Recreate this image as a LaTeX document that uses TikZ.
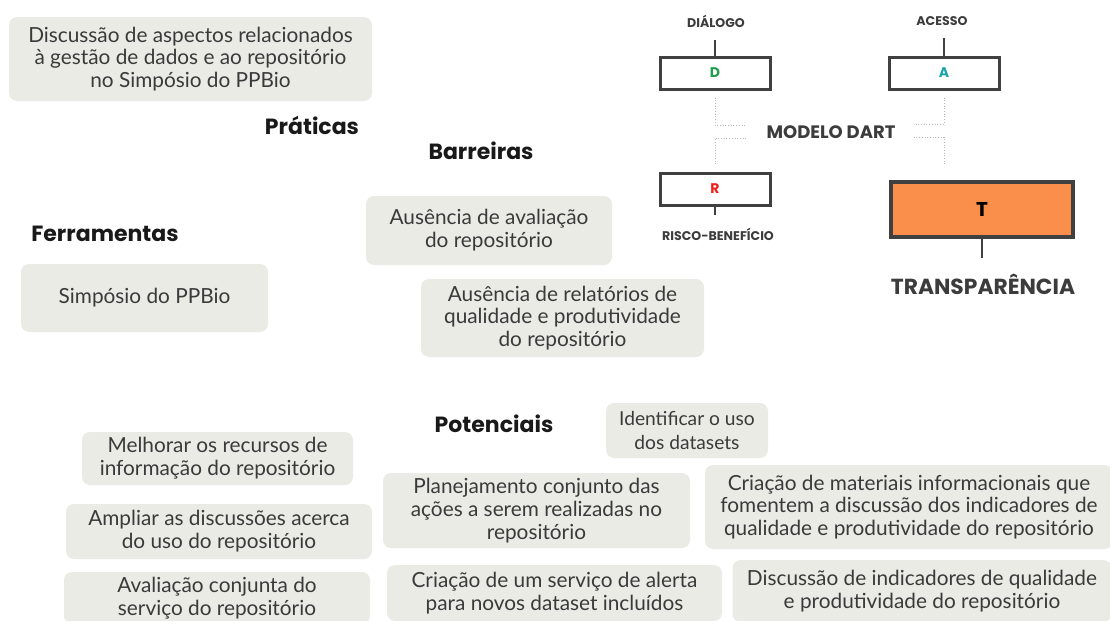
\documentclass[tikz,border=0pt]{standalone}
\usepackage{fontspec}
\setmainfont{Lato}
\newfontfamily\headfont{Poppins}
\usetikzlibrary{positioning}

\definecolor{boxgray}{HTML}{EBEBE6}
\definecolor{textgray}{HTML}{3A3A3A}
\definecolor{edgegray}{HTML}{404040}
\definecolor{labelgray}{HTML}{3C3C3C}
\definecolor{dgreen}{HTML}{1E9E4A}
\definecolor{ateal}{HTML}{1BA3A8}
\definecolor{rred}{HTML}{F21D1D}
\definecolor{torange}{HTML}{FA8F4B}

\begin{document}
\begin{tikzpicture}[
    x=0.5pt, y=-0.5pt,
    box/.style={rectangle, fill=boxgray, rounded corners=4pt, align=center, text=textgray, inner sep=0pt, font=\fontsize{10.4}{11.4}\selectfont},
    head/.style={inner sep=0pt, text=black!90, font=\headfont\bfseries\fontsize{11}{12}\selectfont},
    letterbox/.style={rectangle, draw=edgegray, line width=1.5pt, fill=white, minimum width=55pt, minimum height=16pt, font=\headfont\bfseries\fontsize{7}{8}\selectfont},
    tag/.style={inner sep=0pt, text=labelgray, font=\headfont\bfseries\fontsize{6.3}{7}\selectfont},
    stem/.style={draw=edgegray, line width=1.3pt},
    dotline/.style={draw=gray!55, line width=0.45pt, dash pattern=on 0.45pt off 0.9pt}
]
\useasboundingbox (0,0) rectangle (1110,621);
\clip (0,0) rectangle (1110,621);

% Praticas, ferramentas, barreiras
\node[box, minimum width=181.5pt, minimum height=42pt] (pratbox) at (190.5,59) {Discussão de aspectos relacionados\\à gestão de dados e ao repositório\\no Simpósio do PPBio};
\node[head] (praticas) at (312,125) {Práticas};
\node[head] (barreiras) at (481,151) {Barreiras};
\node[head] (ferramentas) at (105,234) {Ferramentas};
\node[box, minimum width=123.5pt, minimum height=34pt] (ferrbox) at (144.5,298) {Simpósio do PPBio};
\node[box, minimum width=123pt, minimum height=34.5pt] (barbox1) at (489,230.5) {Ausência de avaliação\\do repositório};
\node[box, minimum width=141.5pt, minimum height=39pt] (barbox2) at (562.5,318) {Ausência de relatórios de\\qualidade e produtividade\\do repositório};

% Potenciais
\node[head] (potenciais) at (494,424) {Potenciais};
\node[box, minimum width=81pt, minimum height=27.5pt, font=\fontsize{9.6}{12}\selectfont] (potbox1) at (687,430.5) {Identificar o uso\\dos datasets};
\node[box, minimum width=135.5pt, minimum height=26.5pt] (potbox2) at (217.5,458.5) {Melhorar os recursos de\\informação do repositório};
\node[box, minimum width=153pt, minimum height=27.5pt] (potbox3) at (219,531.5) {Ampliar as discussões acerca\\do uso do repositório};
\node[box, minimum width=153pt, minimum height=26pt] (potbox4) at (217,598) {Avaliação conjunta do\\serviço do repositório};
\node[box, minimum width=153.5pt, minimum height=37.5pt] (potbox5) at (536.5,510.5) {Planejamento conjunto das\\ações a serem realizadas no\\repositório};
\node[box, minimum width=204pt, minimum height=42pt] (potbox6) at (909,507) {Criação de materiais informacionais que\\fomentem a discussão dos indicadores de\\qualidade e produtividade do repositório};
\node[box, minimum width=167.5pt, minimum height=28pt] (potbox7) at (554.5,593) {Criação de um serviço de alerta\\para novos dataset incluídos};
\node[box, minimum width=189.5pt, minimum height=31pt] (potbox8) at (922,591) {Discussão de indicadores de qualidade\\e produtividade do repositório};

% Modelo DART
\node[letterbox, text=dgreen] (D) at (715,73) {D};
\node[letterbox, text=ateal] (A) at (944,73) {A};
\node[letterbox, text=rred] (R) at (715,189) {R};
\node[letterbox, fill=torange, line width=2pt, minimum width=91pt, minimum height=27.5pt, font=\headfont\bfseries\fontsize{10}{11}\selectfont] (T) at (982,209.5) {T};
\node[tag] (dialogo) at (716,21) {DIÁLOGO};
\node[tag] (acesso) at (942,21) {ACESSO};
\node[tag] (risco) at (718,234) {RISCO-BENEFÍCIO};
\node[tag, font=\headfont\bfseries\fontsize{10.9}{12}\selectfont] (transp) at (983,284) {TRANSPARÊNCIA};
\node[tag, font=\headfont\bfseries\fontsize{9}{10}\selectfont] (dart) at (831,132) {MODELO DART};
\path (A.south |- T.north) coordinate (tstub);

% Ligacoes
\draw[stem] (D.north) -- ([yshift=-6pt]D.north |- dialogo.south);
\draw[stem] (A.north) -- ([yshift=-6pt]A.north |- acesso.south);
\draw[stem] (R.south) -- ([yshift=6pt]R.south |- risco.north);
\draw[stem] (T.south) -- ([yshift=7.5pt]T.south |- transp.north);
\draw[dotline] ([yshift=-3.5pt]D.south) |- ([xshift=-10.5pt,yshift=3.5pt]dart.west);
\draw[dotline] ([yshift=-3.5pt]A.south) |- ([xshift=9pt,yshift=4pt]dart.east);
\draw[dotline] ([xshift=-10pt,yshift=-3pt]dart.west) -| ([yshift=3pt]R.north);
\draw[dotline] ([xshift=9pt,yshift=-2.5pt]dart.east) -| ([yshift=7.5pt]tstub);
\end{tikzpicture}
\end{document}
